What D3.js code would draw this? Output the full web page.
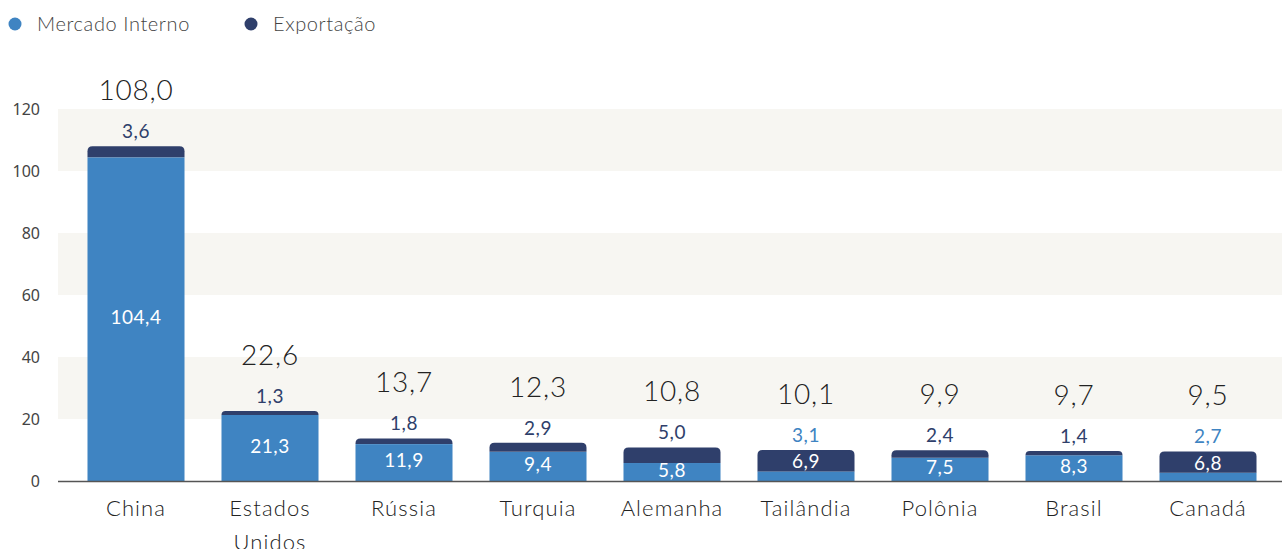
<!DOCTYPE html>
<meta charset="utf-8">
<script src="https://d3js.org/d3.v7.min.js"></script>
<style>
  body { margin: 0; background: #fff; }
  text { font-family: Lato, "Open Sans", sans-serif; }
</style>
<body>
<svg id="chart" width="1282" height="549"></svg>
<script>
  // data
  var paises = ["China", "Estados Unidos", "Rússia", "Turquia", "Alemanha", "Tailândia", "Polônia", "Brasil", "Canadá"];
  var mercadoInterno = [104.4, 21.3, 11.9, 9.4, 5.8, 3.1, 7.5, 8.3, 2.7];
  var exportacao = [3.6, 1.3, 1.8, 2.9, 5.0, 6.9, 2.4, 1.4, 6.8];
  var totais = [108.0, 22.6, 13.7, 12.3, 10.8, 10.1, 9.9, 9.7, 9.5];
  var yTicks = [0, 20, 40, 60, 80, 100, 120];
  var series = ["Mercado Interno", "Exportação"];

  var corInterno = "#3f84c2", corExport = "#2f3f6b";
  var fmt = function(v) { return d3.format(".1f")(v).replace(".", ","); };

  var svg = d3.select("#chart");
  var left = 58, right = 1282;

  var x = d3.scaleBand().domain(paises).range([69, 1275]).paddingInner(0.276).paddingOuter(0.138);
  var y = d3.scaleLinear().domain([0, 120]).range([481, 109]);

  // background bands
  var bandas = [[100, 120], [60, 80], [20, 40]];
  svg.append("g").selectAll("rect").data(bandas).enter().append("rect")
    .attr("x", left).attr("width", right - left)
    .attr("y", function(d) { return y(d[1]); })
    .attr("height", function(d) { return y(d[0]) - y(d[1]); })
    .attr("fill", "#f7f6f2");

  // y axis labels
  svg.append("g").selectAll("text").data(yTicks).enter().append("text")
    .attr("x", 40).attr("y", function(d) { return y(d); })
    .attr("dy", "0.35em").attr("text-anchor", "end")
    .style("font-family", "'Noto Sans', sans-serif")
    .style("font-size", "16px").attr("fill", "#444")
    .text(function(d) { return d; });

  // top-rounded rect path
  function topRounded(x0, y0, w, h, r) {
    r = Math.min(r, h, w / 2);
    return "M" + x0 + "," + (y0 + h) +
      "V" + (y0 + r) +
      "Q" + x0 + "," + y0 + " " + (x0 + r) + "," + y0 +
      "H" + (x0 + w - r) +
      "Q" + (x0 + w) + "," + y0 + " " + (x0 + w) + "," + (y0 + r) +
      "V" + (y0 + h) + "Z";
  }

  var bw = x.bandwidth();
  var g = svg.append("g");
  paises.forEach(function(p, i) {
    var x0 = x(p);
    var mi = mercadoInterno[i], ex = exportacao[i];
    g.append("rect").attr("x", x0).attr("width", bw)
      .attr("y", y(mi)).attr("height", y(0) - y(mi)).attr("fill", corInterno);
    g.append("path").attr("d", topRounded(x0, y(mi + ex), bw, y(mi) - y(mi + ex), 5))
      .attr("fill", corExport);

    var cx = x0 + bw / 2;
    var topo = y(mi + ex);
    // total label
    g.append("text").attr("x", cx).attr("y", topo - 56).attr("dy", "0.35em")
      .attr("text-anchor", "middle").style("font-size", "28px").style("font-weight", 300)
      .style("letter-spacing", "0.8px").attr("fill", "#222")
      .text(fmt(totais[i]));

    // smaller segment label above, larger inside
    var menorExp = ex <= mi;
    g.append("text").attr("x", cx).attr("y", topo - 15).attr("dy", "0.35em")
      .attr("text-anchor", "middle").style("font-size", "19px").style("letter-spacing", "0.5px")
      .attr("fill", menorExp ? corExport : corInterno)
      .text(fmt(menorExp ? ex : mi));
    var meio = menorExp ? (y(mi) + y(0)) / 2 - 2 : (y(mi + ex) + y(mi)) / 2 + 1;
    g.append("text").attr("x", cx).attr("y", meio).attr("dy", "0.35em")
      .attr("text-anchor", "middle").style("font-size", "19px").style("letter-spacing", "0.5px")
      .attr("fill", "#fff")
      .text(fmt(menorExp ? mi : ex));
  });

  // baseline
  svg.append("line").attr("x1", left).attr("x2", right)
    .attr("y1", y(0) + 0.5).attr("y2", y(0) + 0.5)
    .attr("stroke", "#555").attr("stroke-width", 1.5);

  // category labels
  var cat = svg.append("g").selectAll("text").data(paises).enter().append("text")
    .attr("x", function(d) { return x(d) + bw / 2; })
    .attr("y", 508).attr("text-anchor", "middle")
    .style("font-size", "22px").style("font-weight", 300).style("letter-spacing", "1.1px")
    .attr("fill", "#222");
  cat.each(function(d) {
    var palavras = d === "Estados Unidos" ? ["Estados", "Unidos"] : [d];
    var t = d3.select(this);
    palavras.forEach(function(w, k) {
      t.append("tspan").attr("x", x(d) + bw / 2).attr("dy", k === 0 ? "0.35em" : "34px").text(w);
    });
  });

  // legend
  var leg = svg.append("g");
  var legX = [15, 251];
  series.forEach(function(s, i) {
    leg.append("circle").attr("cx", legX[i]).attr("cy", 24).attr("r", 6.5)
      .attr("fill", i === 0 ? corInterno : corExport);
    leg.append("text").attr("x", legX[i] + 22).attr("y", 24).attr("dy", "0.35em")
      .style("font-size", "20px").style("font-weight", 300).style("letter-spacing", "0.6px")
      .attr("fill", "#444").text(s);
  });
</script>
</body>
